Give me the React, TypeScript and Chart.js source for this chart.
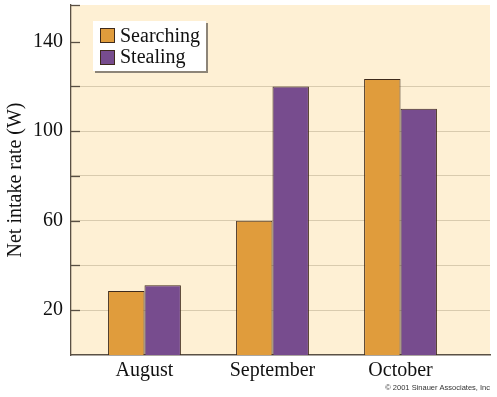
import React, { useEffect, useRef } from 'react';
import { Chart, registerables } from 'chart.js';

Chart.register(...registerables);

const categories = ['August', 'September', 'October'];
const seriesNames = ['Searching', 'Stealing'];
const searching = [28.6, 60, 123.3];
const stealing = [31.2, 120, 110];
const yGridValues = [20, 40, 60, 80, 100, 120, 140];
const yLabelValues = [20, 60, 100, 140];
const yTitle = 'Net intake rate (W)';
const copyright = '\u00A9 2001 Sinauer Associates, Inc';

const ORANGE = '#e09c3c';
const PURPLE = '#774c8e';
const BAR_BORDER = '#3e2a1c';
const PLOT_BG = '#fef0d4';
const GRID = '#d9cbae';
const AXIS = '#5a5044';
const SERIF = '"Liberation Serif", "Times New Roman", serif';

const X_MIN = 0.426;
const X_MAX = 3.699;

export default function App() {
  const ref = useRef<HTMLCanvasElement | null>(null);

  useEffect(() => {
    const canvas = ref.current;
    if (!canvas) return;
    const positions = categories.map((_, i) => i + 1);

    const decor = {
      id: 'decor',
      beforeDraw(chart: any) {
        const { ctx, chartArea: a } = chart;
        ctx.save();
        ctx.fillStyle = '#ffffff';
        ctx.fillRect(0, 0, chart.width, chart.height);
        ctx.fillStyle = PLOT_BG;
        ctx.fillRect(a.left, a.top, a.right - a.left, a.bottom - a.top);
        ctx.restore();
      },
      afterDraw(chart: any) {
        const { ctx, chartArea: a } = chart;
        const ys = chart.scales.y;
        ctx.save();
        ctx.strokeStyle = AXIS;
        ctx.lineWidth = 1.3;
        const tickVals = [...yGridValues, ys.max];
        tickVals.forEach((v) => {
          const py = Math.round(ys.getPixelForValue(v)) + 0.5;
          ctx.beginPath();
          ctx.moveTo(a.left, py);
          ctx.lineTo(a.left + 9, py);
          ctx.stroke();
        });
        const lx = 93, ly = 21, lw = 113, lh = 50;
        ctx.fillStyle = '#8d8578';
        ctx.fillRect(lx + 2, ly + 2, lw, lh);
        ctx.fillStyle = '#ffffff';
        ctx.fillRect(lx, ly, lw, lh);
        const colors = [ORANGE, PURPLE];
        ctx.font = `20px ${SERIF}`;
        ctx.textBaseline = 'alphabetic';
        ctx.textAlign = 'left';
        seriesNames.forEach((name, i) => {
          const sy = 28 + i * 22;
          ctx.fillStyle = colors[i];
          ctx.fillRect(100, sy, 14, 14);
          ctx.strokeStyle = BAR_BORDER;
          ctx.lineWidth = 1;
          ctx.strokeRect(100.5, sy + 0.5, 14, 14);
          ctx.fillStyle = '#111111';
          ctx.fillText(name, 120, 42 + i * 21);
        });
        ctx.font = '7.5px "Liberation Sans", Arial, sans-serif';
        ctx.fillStyle = '#333333';
        ctx.textAlign = 'right';
        ctx.textBaseline = 'middle';
        ctx.fillText(copyright, 490, 388);
        ctx.restore();
      },
    };

    const chart = new Chart(canvas, {
      type: 'bar',
      data: {
        datasets: [
          {
            label: seriesNames[0],
            data: positions.map((x, i) => ({ x, y: searching[i] })),
            backgroundColor: ORANGE,
            borderColor: BAR_BORDER,
            borderWidth: 1,
            barPercentage: 1,
            categoryPercentage: 0.569,
          },
          {
            label: seriesNames[1],
            data: positions.map((x, i) => ({ x, y: stealing[i] })),
            backgroundColor: PURPLE,
            borderColor: BAR_BORDER,
            borderWidth: 1,
            barPercentage: 1,
            categoryPercentage: 0.569,
          },
        ],
      } as any,
      options: {
        responsive: false,
        animation: false,
        layout: { padding: { left: 0, right: 7, top: 5, bottom: 0 } },
        plugins: {
          legend: { display: false },
          tooltip: { enabled: false },
        },
        scales: {
          x: {
            type: 'linear',
            offset: false,
            bounds: 'data',
            min: X_MIN,
            max: X_MAX,
            afterDataLimits: (s: any) => {
              s.min = X_MIN;
              s.max = X_MAX;
            },
            afterBuildTicks: (s: any) => {
              s.ticks = positions.map((v) => ({ value: v }));
              s.min = X_MIN;
              s.max = X_MAX;
            },
            afterFit: (s: any) => {
              s.height = 42;
              s.paddingLeft = 0;
              s.paddingRight = 0;
            },
            grid: { display: false, drawTicks: false, offset: false },
            border: { color: AXIS, width: 1.5 },
            ticks: {
              callback: (v: any) => categories[Number(v) - 1] ?? '',
              font: { family: SERIF, size: 20 },
              color: '#111111',
              padding: 4,
              autoSkip: false,
              maxRotation: 0,
            },
          },
          y: {
            type: 'linear',
            min: 0,
            max: 156.4,
            afterBuildTicks: (s: any) => {
              s.ticks = yGridValues.map((v) => ({ value: v }));
            },
            afterFit: (s: any) => {
              s.width = 71;
              s.paddingTop = 0;
              s.paddingBottom = 0;
            },
            grid: {
              drawTicks: false,
              color: (c: any) =>
                c.tick && c.tick.value < 140 ? GRID : 'rgba(0,0,0,0)',
              lineWidth: 1,
            },
            border: { color: AXIS, width: 1.3 },
            ticks: {
              callback: (v: any) =>
                yLabelValues.includes(Number(v)) ? String(v) : '',
              font: { family: SERIF, size: 20 },
              color: '#111111',
              padding: 8,
              autoSkip: false,
            },
            title: {
              display: true,
              text: yTitle,
              font: { family: SERIF, size: 20 },
              color: '#111111',
              padding: { top: 4, bottom: 0 },
            },
          },
        },
      } as any,
      plugins: [decor],
    });

    return () => chart.destroy();
  }, []);

  return (
    <div style={{ position: 'absolute', left: 0, top: 0, width: 497, height: 397 }}>
      <canvas ref={ref} width={497} height={397} style={{ width: 497, height: 397, display: 'block' }} />
    </div>
  );
}
